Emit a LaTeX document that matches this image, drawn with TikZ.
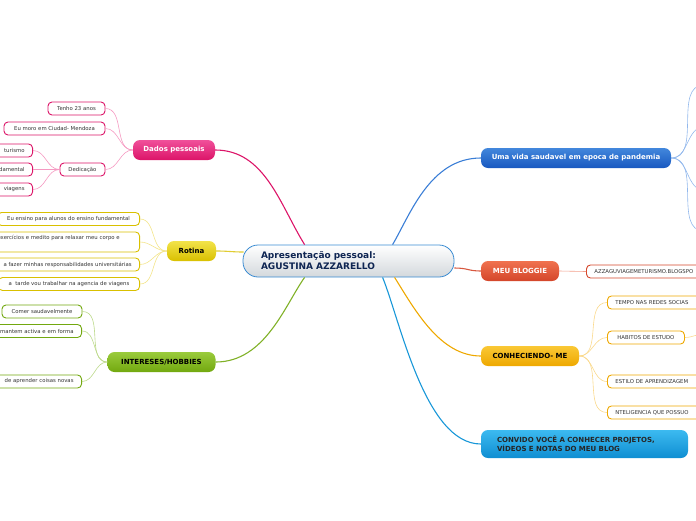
\documentclass[tikz,border=0pt]{standalone}
\usepackage{fontspec}
\setmainfont{DejaVu Sans}
\usepackage{tikz}
\usetikzlibrary{calc}
\newcommand{\leaffont}{\fontsize{5.35}{6.4}\selectfont}
\newcommand{\topicfont}{\fontsize{7}{9}\selectfont\bfseries}
\newcommand{\rootfont}{\fontsize{9}{11}\selectfont\bfseries}
\definecolor{mm-pink}{HTML}{DC1468}
\definecolor{mm-pinktop}{HTML}{F0509A}
\definecolor{mm-pinklt}{HTML}{F59AC2}
\definecolor{mm-yel}{HTML}{D9C000}
\definecolor{mm-yeltop}{HTML}{F2E34A}
\definecolor{mm-yellt}{HTML}{F3E48A}
\definecolor{mm-grn}{HTML}{72A80F}
\definecolor{mm-grntop}{HTML}{9ACB3C}
\definecolor{mm-grnlt}{HTML}{BCD98A}
\definecolor{mm-blu}{HTML}{1858C0}
\definecolor{mm-blutop}{HTML}{4287DC}
\definecolor{mm-blult}{HTML}{92B8EC}
\definecolor{mm-red}{HTML}{D4462A}
\definecolor{mm-redtop}{HTML}{F0724F}
\definecolor{mm-redlt}{HTML}{F2A08C}
\definecolor{mm-org}{HTML}{EEA800}
\definecolor{mm-orgtop}{HTML}{FAC835}
\definecolor{mm-orglt}{HTML}{FAD98C}
\definecolor{mm-cyan}{HTML}{0F8ED2}
\definecolor{mm-cyantop}{HTML}{3CBAF0}
\definecolor{mm-rootline}{HTML}{3A8BD2}
\definecolor{mm-rootgrey}{HTML}{D3D8DC}
\definecolor{mm-ink}{HTML}{333333}
\definecolor{mm-navy}{HTML}{0E2552}
\tikzset{
  root/.style={draw=mm-rootline,line width=0.8pt,rounded corners=15pt,
    top color=white,bottom color=mm-rootgrey,minimum height=32pt,
    text width=175pt,inner xsep=18pt,align=left,font=\rootfont,text=mm-navy},
  topic/.style={rounded corners=7pt,minimum height=20pt,inner sep=0pt,font=\topicfont},
  leaf/.style={draw,fill=white,line width=0.9pt,rounded corners=4pt,minimum height=13pt,
    inner xsep=8pt,inner ysep=0pt,font=\leaffont,text=mm-ink},
  link/.style={line width=1.1pt},
  twig/.style={line width=0.6pt},
}

\begin{document}
\begin{tikzpicture}[x=1pt,y=-1pt]
\useasboundingbox (0,0) rectangle (696,520);
\clip (0,0) rectangle (696,520);

% ============ central topic ============
\node[root] (root) at (348.5,261) {Apresentação pessoal:\\AGUSTINA AZZARELLO};
\coordinate (rt-dd) at ($(root.north west)+(62,0)$);
\coordinate (rt-vida) at ($(root.north west)+(150,0)$);
\coordinate (rt-rot) at ($(root.west)+(1,-9)$);
\coordinate (rt-blog) at ($(root.east)+(0,7)$);
\coordinate (rt-hob) at ($(root.south west)+(62,0)$);
\coordinate (rt-conv) at ($(root.south west)+(140,0)$);
\coordinate (rt-con) at ($(root.south west)+(152,0)$);

% ============ main topics ============
\node[topic,top color=mm-pinktop,bottom color=mm-pink,text=white,minimum width=82pt] (dados) at (174,150) {Dados pessoais};
\node[topic,top color=mm-yeltop,bottom color=mm-yel,text=black,minimum width=49pt] (rotina) at (191.5,251) {Rotina};
\node[topic,top color=mm-grntop,bottom color=mm-grn,text=black,minimum width=108pt] (hobby) at (161.5,362) {INTERESES/HOBBIES};
\node[topic,top color=mm-blutop,bottom color=mm-blu,text=white,minimum width=190pt] (vida) at (576,158) {Uma vida saudavel em epoca de pandemia};
\node[topic,top color=mm-redtop,bottom color=mm-red,text=white,minimum width=78pt] (blog) at (520,271) {MEU BLOGGIE};
\node[topic,top color=mm-orgtop,bottom color=mm-org,text=black,minimum width=98pt] (conhece) at (530,356) {CONHECIENDO- ME};
\node[topic,top color=mm-cyantop,bottom color=mm-cyan,text=black!85,minimum width=207pt,minimum height=28pt,
  text width=175pt,inner xsep=16pt,align=left] (convido) at (584.5,444)
  {CONVIDO VOCÊ A CONHECER PROJETOS,\\VÍDEOS E NOTAS DO MEU BLOG};

% main links
\draw[link,mm-pink] (dados.east) .. controls (265,150) and (280,205) .. (rt-dd);
\draw[link,mm-yel!80] (rotina.east) .. controls (228,251) and (232,252) .. (rt-rot);
\draw[link,mm-grn!90] (hobby.east) .. controls (265,362) and (285,305) .. (rt-hob);
\draw[link,mm-blutop!80!mm-blu] (vida.west) .. controls (430,158) and (410,215) .. (rt-vida);
\draw[link,mm-red!90] (rt-blog) .. controls (468,268) and (468,271) .. (blog.west);
\draw[link,mm-org] (rt-con) .. controls (415,310) and (440,356) .. (conhece.west);
\draw[link,mm-cyan!80!mm-cyantop] (rt-conv) .. controls (400,320) and (425,444) .. (convido.west);

% ============ Dados pessoais ============
\node[leaf,draw=mm-pink,minimum width=57pt] (tenho) at (76.5,108.5) {Tenho 23 anos};
\node[leaf,draw=mm-pink,minimum width=101pt] (moro) at (54.5,128.5) {Eu moro em Ciudad- Mendoza};
\node[leaf,draw=mm-pink,minimum width=45pt] (dedica) at (82.5,169.5) {Dedicação};
\node[leaf,draw=mm-pink,anchor=east,text width=60pt,align=right] (turismo) at (33,150.5) {turismo};
\node[leaf,draw=mm-pink,anchor=east,text width=60pt,align=right] (fundam) at (33,169.5) {damental};
\node[leaf,draw=mm-pink,anchor=east,text width=60pt,align=right] (viagem) at (33,189.5) {viagens};
\foreach \n in {tenho,moro,dedica}
  \draw[twig,mm-pinklt] (dados.west) to[out=180,in=0] (\n.east);
\foreach \n in {turismo,fundam,viagem}
  \draw[twig,mm-pinklt] (dedica.west) to[out=180,in=0] (\n.east);

% ============ Rotina ============
\node[leaf,draw=mm-yel,anchor=east,minimum width=142pt] (ensino) at (140,219) {Eu ensino para alunos do ensino fundamental};
\node[leaf,draw=mm-yel,anchor=east,minimum height=20pt,text width=134pt,align=left] (medito) at (140,242)
  {exercícios e medito para relaxar meu corpo e\\\strut};
\node[leaf,draw=mm-yel,anchor=east,text width=150pt,align=right] (facul) at (140,264.5) {a fazer minhas responsabilidades universitárias};
\node[leaf,draw=mm-yel,anchor=east,minimum width=141pt] (tarde) at (140,284) {a~ tarde vou trabalhar na agencia de viagens};
\foreach \n in {ensino,medito,facul,tarde}
  \draw[twig,mm-yellt] (rotina.west) to[out=180,in=0] (\n.east);

% ============ INTERESES/HOBBIES ============
\node[leaf,draw=mm-grn,minimum width=80pt] (comer) at (42,311.5) {Comer saudavelmente};
\node[leaf,draw=mm-grn,anchor=east,text width=100pt,align=right] (forma) at (82,331) {mantem activa e em forma};
\node[leaf,draw=mm-grn,anchor=east,text width=100pt,align=right] (aprender) at (82,381.5) {de aprender coisas novas};
\foreach \n in {comer,forma,aprender}
  \draw[twig,mm-grnlt] (hobby.west) to[out=180,in=0] (\n.east);

% ============ Uma vida saudavel ============
\coordinate (vida-a) at (704,85);
\coordinate (vida-b) at (704,127);
\coordinate (vida-c) at (704,190);
\coordinate (vida-d) at (704,231);
\foreach \n in {vida-a,vida-b,vida-c,vida-d}
  \draw[twig,mm-blult] (vida.east) to[out=0,in=180] (\n);

% ============ MEU BLOGGIE ============
\node[leaf,draw=mm-red,anchor=west,text width=130pt,align=left] (url) at (586,271.5) {AZZAGUVIAGEMETURISMO.BLOGSPO};
\draw[twig,mm-redlt] (blog.east) -- (url.west);

% ============ CONHECIENDO- ME ============
\node[leaf,draw=mm-org,anchor=west,text width=100pt,align=left] (redes) at (607,302.5) {TEMPO NAS REDES SOCIAS};
\node[leaf,draw=mm-org,anchor=west,minimum width=77pt] (habito) at (607,337.5) {HABITOS DE ESTUDO};
\node[leaf,draw=mm-org,anchor=west,text width=100pt,align=left] (estilo) at (607,381.5) {ESTILO DE APRENDIZAGEM};
\node[leaf,draw=mm-org,anchor=west,text width=100pt,align=left] (intel) at (607,412.5) {NTELIGENCIA QUE POSSUO};
\foreach \n in {redes,habito,estilo,intel}
  \draw[twig,mm-orglt] (conhece.east) to[out=0,in=180] (\n.west);
\coordinate (habito-a) at (704,334);
\draw[twig,mm-orglt] (habito.east) to[out=0,in=180] (habito-a);

\end{tikzpicture}
\end{document}
